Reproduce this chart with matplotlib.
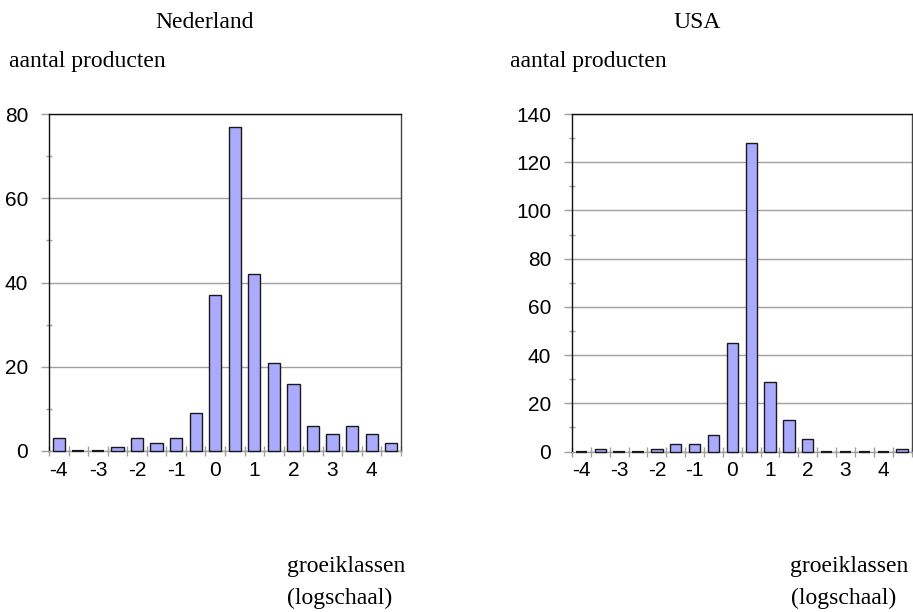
import matplotlib
matplotlib.use("Agg")
import matplotlib.pyplot as plt
from matplotlib.ticker import MultipleLocator, FixedLocator
import numpy as np

# Growth classes (log scale), half-step classes from -4 to 4.5
class_labels = ["-4", "-3", "-2", "-1", "0", "1", "2", "3", "4"]
n_classes = 18

# Number of products per growth class
nl_counts = [3, 0, 0, 1, 3, 2, 3, 9, 37, 77, 42, 21, 16, 6, 4, 6, 4, 2]
us_counts = [0, 1, 0, 0, 1, 3, 3, 7, 45, 128, 29, 13, 5, 0, 0, 0, 0, 1]

titles = ["Nederland", "USA"]
ylabel = "aantal producten"
xlabel_lines = ["groeiklassen", "(logschaal)"]

W, H = 913, 612
fig = plt.figure(figsize=(W / 100, H / 100), dpi=100)

serif = ["Liberation Serif", "DejaVu Serif"]
sans = ["Liberation Sans", "DejaVu Sans"]

bar_color = "#AAAAFF"
grid_color = "#A0A0A0"


def px_axes(x0, x1, ytop, ybot):
    return fig.add_axes([x0 / W, 1 - ybot / H, (x1 - x0) / W, (ybot - ytop) / H])


def draw_panel(ax, counts, ymax, width):
    x = np.arange(n_classes)
    bars = ax.bar(x, counts, width=width, color=bar_color, edgecolor="#1a1a1a",
                  linewidth=1.0, zorder=4)
    for b in bars:
        # empty classes still show as a flat outlined bar on the baseline
        b.set_clip_on(False)
        if b.get_height() == 0:
            b.set_linewidth(1.6)
    ax.set_xlim(-0.5, n_classes - 0.5)
    ax.set_ylim(0, ymax)

    ax.yaxis.set_major_locator(MultipleLocator(20))
    ax.yaxis.set_minor_locator(MultipleLocator(10))
    ax.grid(axis="y", which="major", color=grid_color, linewidth=1.0, zorder=1)

    # labels under every second class, ticks on class boundaries
    ax.xaxis.set_major_locator(FixedLocator(x[::2]))
    ax.set_xticklabels(class_labels)
    ax.xaxis.set_minor_locator(FixedLocator(np.arange(n_classes + 1) - 0.5))
    ax.tick_params(axis="x", which="major", length=0, pad=7)
    ax.tick_params(axis="x", which="minor", direction="inout", length=7,
                   color=grid_color, width=1.0)
    ax.tick_params(axis="y", which="major", direction="out", length=6,
                   color=grid_color, width=1.0, pad=9)
    ax.tick_params(axis="y", which="minor", direction="inout", length=5,
                   color=grid_color, width=1.0)
    for lab in ax.get_xticklabels() + ax.get_yticklabels():
        lab.set_fontfamily(sans)
        lab.set_fontsize(15)

    ax.spines["left"].set_color("#111111")
    ax.spines["top"].set_color("#111111")
    ax.spines["right"].set_color("#444444")
    ax.spines["bottom"].set_color(grid_color)
    for s in ax.spines.values():
        s.set_linewidth(1.0)


ax1 = px_axes(49, 401, 114, 451)
draw_panel(ax1, nl_counts, 80, 0.62)
ax2 = px_axes(572, 911.5, 114, 451.5)
draw_panel(ax2, us_counts, 140, 0.6)


def ftext(xp, yp, s, ha="left"):
    fig.text(xp / W, 1 - yp / H, s, ha=ha, va="baseline",
             fontfamily=serif, fontsize=17)


ftext(205, 28, titles[0], ha="center")
ftext(697, 28, titles[1], ha="center")
ftext(9, 67, ylabel)
ftext(510, 67, ylabel)
ftext(287, 572, xlabel_lines[0])
ftext(287, 604, xlabel_lines[1])
ftext(790, 572, xlabel_lines[0])
ftext(791, 604, xlabel_lines[1])

fig.savefig("out.png", dpi=100)
